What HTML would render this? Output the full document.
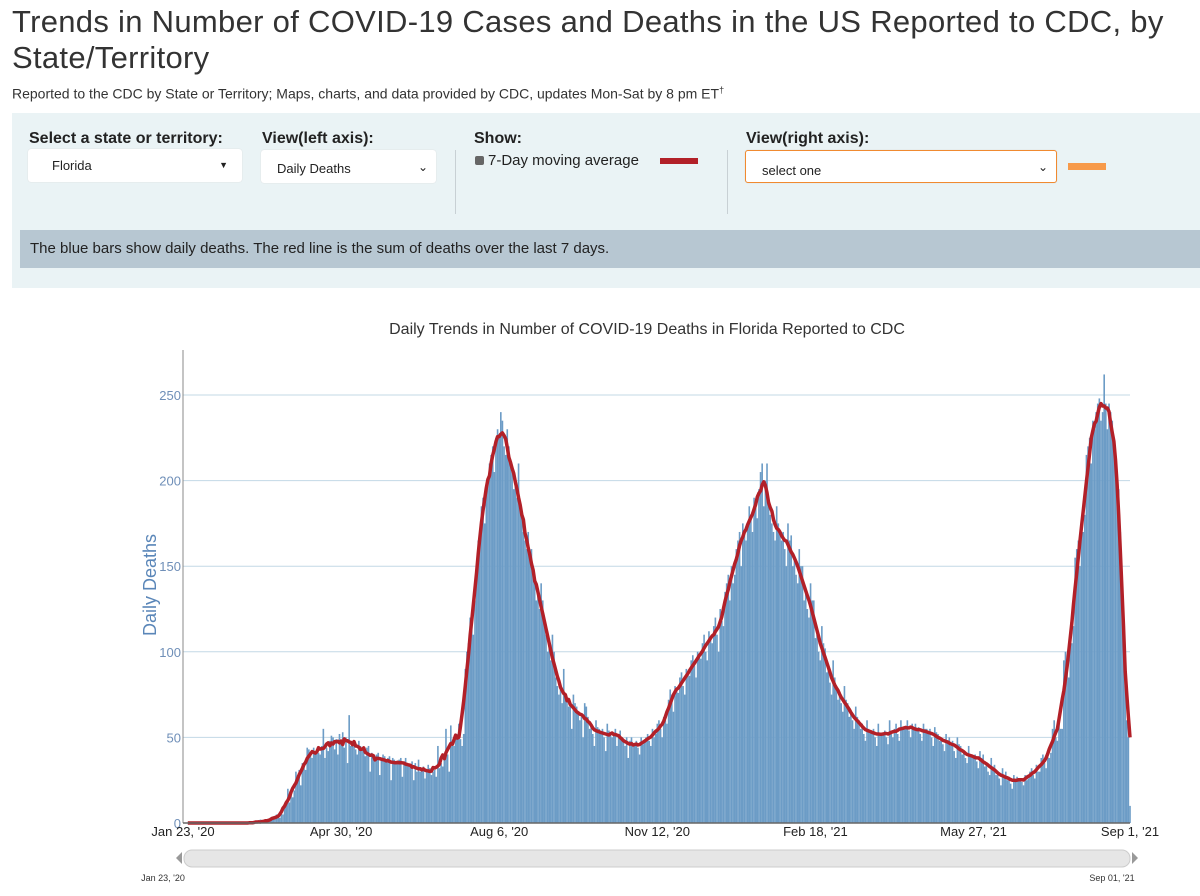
<!DOCTYPE html>
<html><head><meta charset="utf-8">
<style>
body{margin:0;width:1200px;height:896px;overflow:hidden;background:#fff;font-family:"Liberation Sans",sans-serif;position:relative;color:#222}
.abs{position:absolute}
h1{position:absolute;left:12px;top:4px;margin:0;font-weight:normal;font-size:31px;line-height:36px;color:#333;width:1185px;letter-spacing:0.3px}
.sub{left:12px;top:85px;font-size:14px;color:#333}
.panel{left:12px;top:113px;width:1188px;height:175px;background:#eaf3f5}
.lbl{font-weight:bold;font-size:16px;color:#222;top:130px}
.sel{background:#fff;border-radius:3px;font-size:13px;box-shadow:0 0 1px #ccc;height:33px;line-height:33px}
.note{left:20px;top:230px;width:1180px;height:38px;background:#b7c7d2;font-size:15px;line-height:38px;text-indent:10px;color:#222}
.vsep{width:1px;background:#c8d0d4;top:150px;height:64px}
</style></head><body>
<h1>Trends in Number of COVID-19 Cases and Deaths in the US Reported to CDC, by State/Territory</h1>
<div class="abs sub">Reported to the CDC by State or Territory; Maps, charts, and data provided by CDC, updates Mon-Sat by 8 pm ET<sup style="font-size:9px">†</sup></div>
<div class="abs panel"></div>
<div class="abs lbl" style="left:29px">Select a state or territory:</div>
<div class="abs lbl" style="left:262px">View(left axis):</div>
<div class="abs lbl" style="left:474px">Show:</div>
<div class="abs lbl" style="left:746px">View(right axis):</div>
<div class="abs sel" style="left:28px;top:149px;width:214px;text-indent:24px">Florida<span class="abs" style="right:14px;top:0;font-size:9px">▼</span></div>
<div class="abs sel" style="left:261px;top:150px;width:175px;text-indent:16px;line-height:38px">Daily Deaths<span class="abs" style="right:8px;top:-2px;font-size:12px">&#8964;</span></div>
<div class="abs" style="left:475px;top:152px;font-size:15px"><span style="display:inline-block;width:9px;height:9px;background:#666;border-radius:2px;margin-right:4px"></span>7-Day moving average</div>
<div class="abs" style="left:660px;top:158px;width:38px;height:6px;background:#b22028"></div>
<div class="abs vsep" style="left:455px"></div>
<div class="abs vsep" style="left:727px"></div>
<div class="abs sel" style="left:745px;top:150px;width:310px;height:31px;border:1px solid #f08a30;text-indent:16px;line-height:40px">select one<span class="abs" style="right:8px;top:-4px;font-size:12px">&#8964;</span></div>
<div class="abs" style="left:1068px;top:163px;width:38px;height:7px;background:#f79a4a"></div>
<div class="abs note">The blue bars show daily deaths. The red line is the sum of deaths over the last 7 days.</div>
<svg class="abs" style="left:0;top:0" width="1200" height="896" id="chart"></svg>
<script>
const tickValues=[0,50,100,150,200,250];
const dateLabels=["Jan 23, '20","Apr 30, '20","Aug 6, '20","Nov 12, '20","Feb 18, '21","May 27, '21","Sep 1, '21"];
const dateDays=[0,98,196,294,392,490,587];
const dailyDeaths=[
0,0,0,0,0,0,0, 0,0,0,0,0,0,0, 0,0,0,0,0,0,0, 0,0,0,0,0,0,0, 0,0,0,0,0,0,0, 0,0,0,0,0,0,0,
0,0,1,0,0,1,2, 0,1,0,2,1,3,2, 2,3,5,4,3,6,5, 10,13,20,12,18,15,19, 30,28,31,22,35,33,31,
44,43,40,38,44,42,41, 41,40,45,55,38,44,42, 48,51,50,43,49,40,52, 47,53,44,50,35,63,45,
46,48,43,40,48,45,44, 42,39,44,45,30,41,40, 38,40,41,28,37,40,39, 36,38,39,25,38,37,36,
35,37,38,27,36,38,35, 34,33,36,25,35,30,37, 30,31,33,26,30,34,32, 28,30,31,27,45,32,35,
33,38,55,40,30,57,48, 45,50,52,58,49,45,52, 90,100,105,120,115,110,130, 150,165,170,185,190,175,195,
200,210,215,220,205,225,230, 225,240,235,220,215,230,220, 210,205,195,200,190,210,185, 180,170,165,160,170,155,160,
145,140,130,135,125,140,130, 115,110,100,105,95,110,100, 85,80,75,80,70,90,75, 72,68,70,55,75,70,68,
65,60,62,50,70,68,62, 55,58,52,45,60,56,55, 52,55,50,42,58,54,53, 50,53,55,45,52,54,50,
48,45,50,38,48,50,46, 45,48,44,40,50,46,48, 50,52,48,45,55,50,52, 58,60,55,50,62,60,58,
72,78,75,65,80,78,76, 85,88,80,75,90,88,86, 95,98,92,85,100,97,96, 105,110,100,95,112,108,105,
115,120,110,100,125,118,115, 135,140,145,130,150,140,145, 160,165,170,150,175,170,165, 175,185,180,170,190,185,178,
195,205,210,185,200,210,190, 180,175,170,165,185,175,170, 165,170,160,150,175,165,168, 150,155,145,140,160,150,150,
130,135,125,120,140,130,130, 108,110,100,95,115,105,102, 88,90,82,75,95,85,80, 72,75,70,65,80,72,70,
62,65,60,55,68,62,60, 55,58,52,48,60,55,54, 52,55,50,45,58,52,52, 52,54,50,46,60,52,50,
55,58,52,48,60,56,55, 56,60,54,50,58,56,58, 54,56,52,48,58,55,55, 52,55,50,45,56,53,52,
48,50,46,42,52,48,50, 45,48,42,38,50,46,45, 40,42,38,35,45,40,40, 38,40,36,32,42,38,40,
33,35,30,28,38,33,34, 28,30,26,22,32,28,30, 25,27,23,20,28,25,27, 25,26,24,22,28,25,26,
30,32,28,26,34,30,30, 38,40,35,32,42,38,41, 55,60,50,48,62,55,55, 95,100,90,85,110,105,115,
155,160,165,150,175,170,180, 215,220,225,210,235,230,240, 245,248,235,240,262,245,230, 245,240,235,225,215,205,195,
170,140,110,80,60,50,10];
const NS="http://www.w3.org/2000/svg";
const svg=document.getElementById('chart');
const X0=183,X1=1130,Y0=823,YTOP=395;
const x=d=>X0+d*(X1-X0)/587;
const y=v=>Y0-v*(Y0-YTOP)/250;
function mk(t,a,p){const e=document.createElementNS(NS,t);for(const k in a)e.setAttribute(k,a[k]);(p||svg).appendChild(e);return e;}
let t=mk('text',{x:647,y:334,'text-anchor':'middle','font-size':16,fill:'#333','font-family':'Liberation Sans'});


t.textContent='Daily Trends in Number of COVID-19 Deaths in Florida Reported to CDC';
tickValues.forEach(v=>{
 if(v>0){const g=mk('line',{x1:X0,x2:X1,y1:y(v),y2:y(v),stroke:'#c3d8e6','stroke-width':1});
 
 }
 const l=mk('text',{x:X0-2,y:y(v)+5,'text-anchor':'end','font-size':13,fill:'#6f8fb8','font-family':'Liberation Sans'});
 
 
 l.textContent=v;
});
const bw=(X1-X0)/587;
dailyDeaths.forEach((v,i)=>{
 if(v<=0)return;
 const r=mk('rect',{x:x(i)-bw/2,y:y(v),width:bw,height:Y0-y(v),fill:'#6c9cc6'});
 
 
});
let pts=[];
const n=dailyDeaths.length;
for(let i=3;i<n;i++){let s=0,c=0;for(let j=i-3;j<=Math.min(n-1,i+3);j++){s+=dailyDeaths[j];c++;}pts.push(x(i).toFixed(1)+','+y(s/c).toFixed(1));}
const pl=mk('polyline',{points:pts.join(' '),fill:'none',stroke:'#b22028','stroke-width':3.5,'stroke-linejoin':'round'});


let ax=mk('line',{x1:X0,x2:X0,y1:350,y2:Y0,stroke:'#888','stroke-width':1});


ax=mk('line',{x1:X0,x2:X1,y1:Y0,y2:Y0,stroke:'#666','stroke-width':1.5});


dateDays.forEach((d,i)=>{
 const l=mk('text',{x:x(d),y:836,'text-anchor':'middle','font-size':13,fill:'#222','font-family':'Liberation Sans'});
 
 
 l.textContent=dateLabels[i];
});
const yt=mk('text',{x:0,y:0,transform:'translate(156,585) rotate(-90)','text-anchor':'middle','font-size':18,fill:'#5a86b8','font-family':'Liberation Sans'});


yt.textContent='Daily Deaths';
const sl=mk('rect',{x:184,y:850,width:946,height:17,rx:8,fill:'#e6e6e6',stroke:'#ccc'});


[[182,-1],[1132,1]].forEach(([hx,s],k)=>{
 const h=mk('path',{d:`M${hx} 852 l${s*6} 6 l${-s*6} 6 z`,fill:'#999'});
 
 
});
[[163,"Jan 23, '20"],[1112,"Sep 01, '21"]].forEach(([lx,s])=>{
 const l=mk('text',{x:lx,y:881,'text-anchor':'middle','font-size':9,fill:'#333','font-family':'Liberation Sans'});
 
 
 l.textContent=s;
});
</script>
</body></html>
